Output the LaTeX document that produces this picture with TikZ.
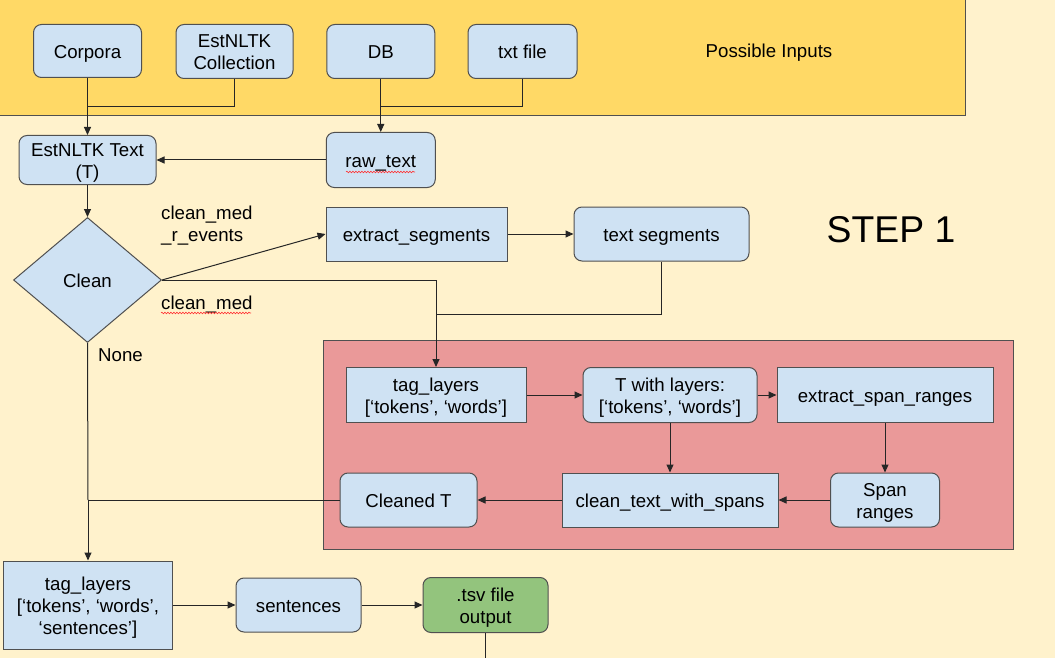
\documentclass[tikz,border=0pt]{standalone}
\usepackage{fontspec}
\setmainfont{Liberation Sans}
\usetikzlibrary{shapes.geometric,arrows.meta,decorations.pathmorphing}
\definecolor{bgy}{HTML}{FFF2CC}
\definecolor{topy}{HTML}{FFD966}
\definecolor{boxb}{HTML}{CFE2F3}
\definecolor{redr}{HTML}{EA9999}
\definecolor{grn}{HTML}{93C47D}
\definecolor{edge}{HTML}{505050}
\newcommand{\gstrut}{\rule[-4pt]{0pt}{16.9pt}}
\newcommand{\gtopstrut}{\rule[-4pt]{0pt}{22.5pt}}
\newcommand{\fstrut}{\rule{0pt}{19pt}}
\begin{document}
\begin{tikzpicture}[x=1pt,y=-1pt,
  font=\fontsize{18.67}{22}\selectfont,
  txtbox/.style={align=center, inner sep=0pt, execute at begin node=\gtopstrut, execute at end node=\gstrut},
  rbox/.style={txtbox, draw=edge, fill=boxb, rounded corners=8pt, line width=1pt},
  sbox/.style={txtbox, draw=edge, fill=boxb, line width=1pt},
  conn/.style={line width=1pt, draw=black!85},
  arr/.style={conn, -{Triangle[length=8pt,width=7pt]}},
  wh/.style 2 args={minimum width=#1pt, minimum height=#2pt},
  lbl/.style={inner sep=0pt, align=left},
  squig/.style={draw=red!80, line width=0.6pt, decorate, decoration={snake, amplitude=0.8pt, segment length=3pt}}
]
\fill[bgy] (0,0) rectangle (1055,658);
\useasboundingbox (0,0) rectangle (1055,658);

% regions
\draw[fill=topy, draw=edge, line width=1pt] (-3,-3) rectangle (965,116);
\draw[fill=redr, draw=edge, line width=1pt] (323,340) rectangle (1013,549);

\node[lbl, anchor=base] (pin) at (769,58) {Possible Inputs};
\node[lbl, anchor=base, font=\fontsize{37.3}{40}\selectfont] (step) at (891,242) {STEP 1};

% inputs
\node[rbox, wh={108}{53}] (corp) at (87.5,51) {Corpora};
\node[rbox, wh={117}{54}] (coll) at (234.5,51.5) {\fstrut EstNLTK\\Collection\gstrut};
\node[rbox, wh={108}{54}] (db) at (380.75,51.5) {DB};
\node[rbox, wh={109}{54}] (txt) at (522.5,51.5) {txt file};

\node[rbox, wh={137}{49}] (est) at (87.5,160) {\fstrut EstNLTK Text\\(T)\gstrut};
\node[rbox, wh={109}{55}] (raw) at (380.75,160) {raw\_text};

\node[txtbox, draw=edge, fill=boxb, diamond, line width=1pt, wh={148}{125}] (clean) at (87.5,280) {Clean};

\node[sbox, wh={181}{54}] (ext) at (416.5,234) {extract\_segments};
\node[rbox, wh={175}{54}] (tseg) at (661.5,234) {text segments};

\node[lbl, anchor=west] (l1) at (161,226) {clean\_med\\\_r\_events};
\node[lbl, anchor=base west] (l2) at (161,309) {clean\_med};
\node[lbl, anchor=base west] (l3) at (98,361) {None};

% red region
\node[sbox, wh={180}{55}] (tag1) at (436,395) {\fstrut tag\_layers\\{[}‘tokens’, ‘words’{]}\gstrut};
\node[rbox, wh={174}{55}] (twl) at (670,395) {\fstrut T with layers:\\{[}‘tokens’, ‘words’{]}\gstrut};
\node[sbox, wh={216}{55}] (esr) at (885,395) {extract\_span\_ranges};
\node[rbox, wh={109}{54}] (span) at (885,500) {\fstrut Span\\ranges\gstrut};
\node[sbox, wh={216}{54}] (ctws) at (670,500) {clean\_text\_with\_spans};
\node[rbox, wh={137}{54}] (cleaned) at (408.5,500) {Cleaned T};

% bottom
\node[sbox, wh={169}{88}] (tag2) at (88,605) {\fstrut tag\_layers\\{[}‘tokens’, ‘words’,\\‘sentences’{]}\gstrut};
\node[rbox, wh={125}{54}] (sent) at (298.5,605) {sentences};
\node[rbox, fill=grn, wh={125}{55}] (tsv) at (485.5,605) {\fstrut .tsv file\\output\gstrut};

% junction coordinates
\coordinate (j1) at (87.5,106.5);
\coordinate (j0) at (380.75,106.5);
\coordinate (j2) at (436,314);
\coordinate (j3) at (88,500);
\coordinate (j4) at (485.5,662);
\coordinate (s1a) at (346,172);
\coordinate (s1b) at (415,172);
\coordinate (s2a) at (161,313);
\coordinate (s2b) at (251,313);

% connectors
\draw[arr] (corp.south) -- (est.north);
\draw[conn] (coll.south) |- (j1);
\draw[arr] (db.south) -- (raw.north);
\draw[conn] (txt.south) |- (j0);
\draw[arr] (raw.west) -- (est.east);
\draw[arr] (est.south) -- (clean.north);
\draw[arr] (clean.east) -- (ext.west);
\draw[arr] (ext.east) -- (tseg.west);
\draw[arr] (clean.east) -| (tag1.north);
\draw[conn] (tseg.south) |- (j2);
\draw[arr] (tag1.east) -- (twl.west);
\draw[arr] (twl.east) -- (esr.west);
\draw[arr] (twl.south) -- (ctws.north);
\draw[arr] (esr.south) -- (span.north);
\draw[arr] (span.west) -- (ctws.east);
\draw[arr] (ctws.west) -- (cleaned.east);
\draw[arr] (cleaned.west) -| (tag2.north);
\draw[conn] (clean.south) -- (j3);
\draw[arr] (tag2.east) -- (sent.west);
\draw[arr] (sent.east) -- (tsv.west);
\draw[conn] (tsv.south) -- (j4);

% spell-check squiggles
\draw[squig] (s1a) -- (s1b);
\draw[squig] (s2a) -- (s2b);
\end{tikzpicture}
\end{document}
